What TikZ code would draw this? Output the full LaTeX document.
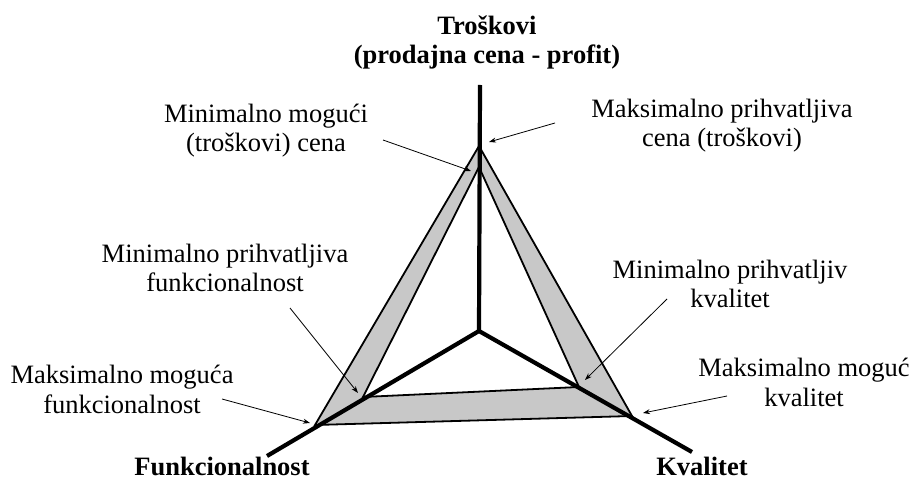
\documentclass[tikz,border=0pt]{standalone}
\usepackage{fontspec}
\setmainfont{Liberation Serif}
\usetikzlibrary{arrows.meta}
\definecolor{bandgray}{RGB}{200,200,200}

\begin{document}
\begin{tikzpicture}[x=1pt,y=-1pt,
    lbl/.style={font=\fontsize{26.5}{29.5}\selectfont,inner sep=0pt,anchor=base,align=center},
    ttl/.style={lbl,font=\fontsize{26.5}{29}\selectfont\bfseries},
    osa/.style={line width=4.2pt},
    rub/.style={line width=1.8pt,line join=miter},
    pointer/.style={-{Stealth[length=7pt,width=5pt]},line width=0.8pt}]
  \useasboundingbox (0,0) rectangle (911,481);

  \coordinate (C) at (479,331);
  \coordinate (T) at (480,85);
  \coordinate (LE) at (267,456);
  \coordinate (RE) at (692,452);

  \coordinate (OT) at (479,146);
  \coordinate (OL) at (315,425);
  \coordinate (OR) at (632,416);
  \coordinate (IT) at (479,167);
  \coordinate (IL) at (363,397);
  \coordinate (IR) at (579,387);

  \fill[bandgray,even odd rule] (OT) -- (OR) -- (OL) -- cycle
                                (IT) -- (IR) -- (IL) -- cycle;
  \draw[rub] (OT) -- (OR) -- (OL) -- cycle;
  \draw[rub] (IT) -- (IR) -- (IL) -- cycle;
  \foreach \e in {T,LE,RE}
    \draw[osa] (C) -- (\e);

  \node[ttl] (troskovi) at (487,64) {Troškovi\\(prodajna cena - profit)};
  \node[ttl] (funk) at (222,475) {Funkcionalnost};
  \node[ttl] (kval) at (702,475) {Kvalitet};

  \node[lbl] (minmog) at (266,152) {Minimalno mogući\\(troškovi) cena};
  \node[lbl] (maxpri) at (722,147) {Maksimalno prihvatljiva\\cena (troškovi)};
  \node[lbl] (minfun) at (225,292) {Minimalno prihvatljiva\\funkcionalnost};
  \node[lbl] (minkva) at (730,308) {Minimalno prihvatljiv\\kvalitet};
  \node[lbl] (maxfun) at (122,413) {Maksimalno moguća\\funkcionalnost};
  \node[lbl] (maxkva) at (804,406) {Maksimalno moguć\\kvalitet};

  \coordinate (a1) at (383,140);  \coordinate (b1) at (471,171);
  \coordinate (a2) at (555,123);  \coordinate (b2) at (489,142);
  \coordinate (a3) at (290,308);  \coordinate (b3) at (358,393);
  \coordinate (a4) at (667,299);  \coordinate (b4) at (585,380);
  \coordinate (a5) at (222,399);  \coordinate (b5) at (310,423);
  \coordinate (a6) at (727,396);  \coordinate (b6) at (643,413);
  \foreach \i in {1,...,6}
    \draw[pointer] (a\i) -- (b\i);
\end{tikzpicture}
\end{document}
